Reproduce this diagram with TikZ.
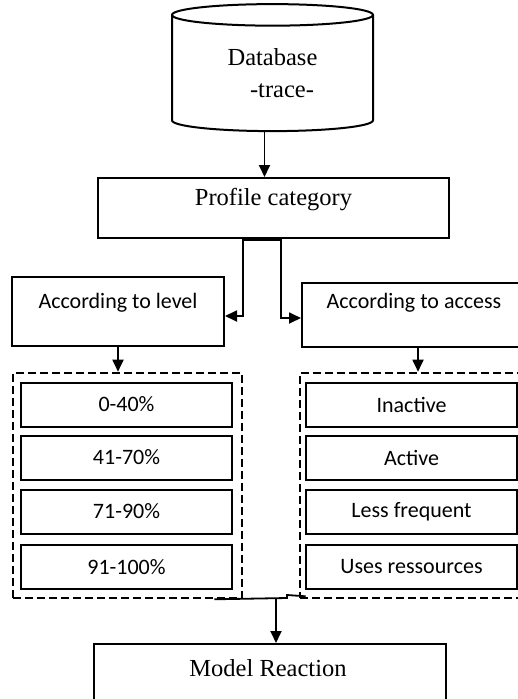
\documentclass[tikz,border=0pt]{standalone}
\usepackage{fontspec}
\setmainfont{Liberation Serif}
\newfontfamily\calib{Carlito}
\usetikzlibrary{shapes.geometric, arrows.meta}

\tikzset{
  box/.style={draw, line width=2pt, inner sep=0pt},
  group/.style={draw, line width=2.6pt, dash pattern=on 8pt off 4pt, inner sep=0pt},
  item/.style={box, minimum width=211, minimum height=44, font=\calib\fontsize{22}{26}\selectfont},
  serif/.style={font=\fontsize{24.5}{32}\selectfont},
  sans/.style={font=\calib\fontsize{22}{26}\selectfont},
  link/.style={line width=1.8pt}
}

\begin{document}
\begin{tikzpicture}[x=1pt, y=-1pt, >={Triangle[length=12pt, width=11pt]}]
  \useasboundingbox (0,0) rectangle (518,699);
  \clip (0,0) rectangle (518,699);

  % Database
  \node[draw, line width=2pt, cylinder, shape border rotate=90, aspect=0.24,
        minimum width=201, minimum height=127, inner sep=0pt, serif, align=center]
        (db) at (272.5,73.5) {Database\\\hspace*{19pt}-trace-};

  % Profile category
  \node[box, minimum width=351, minimum height=60,
        label={[serif, yshift=8pt]center:Profile category}] (prof) at (273.5,208) {};
  \draw[link, ->] ([xshift=-8pt]db.south) -- ([xshift=-8pt]db.south |- prof.north);

  % According to level / access
  \node[box, minimum width=212, minimum height=69,
        label={[sans, yshift=8.5pt]center:According to level}] (lvl) at (118,311.5) {};
  \node[box, minimum width=226, minimum height=64,
        label={[sans, yshift=12pt, xshift=-1pt]center:According to access}] (acc) at (415,315) {};

  % Split below profile
  \draw[line width=3.5pt] ([xshift=-30.5pt]prof.south) -- ([xshift=7.5pt]prof.south);
  \draw[link, ->] ([xshift=-30.5pt]prof.south) |- ([yshift=-4.5pt]lvl.east);
  \draw[link, ->] ([xshift=7.5pt]prof.south) |- ([yshift=-3pt]acc.west);

  % Level group
  \node[group, minimum width=229, minimum height=225] (lvlgrp) at (127.5,485.5) {};
  \node[item] (l1) at (126.5,404.5) {0-40\%};
  \node[item] (l2) at (126.5,457.5) {41-70\%};
  \node[item] (l3) at (126.5,511.5) {71-90\%};
  \node[item] (l4) at (126.5,567) {91-100\%};
  \draw[link, ->] (lvl.south) -- (lvl.south |- lvlgrp.north);

  % Access group
  \node[group, minimum width=222, minimum height=225] (accgrp) at (411,485.5) {};
  \node[item] (a1) at (411.5,404.5) {Inactive};
  \node[item] (a2) at (411.5,457.5) {Active};
  \node[item] (a3) at (411.5,511.5) {Less frequent};
  \node[item] (a4) at (411.5,567) {Uses ressources};
  \draw[link, ->] ([xshift=3pt]acc.south) -- ([xshift=3pt]acc.south |- accgrp.north);

  % Model Reaction
  \node[box, minimum width=352, minimum height=76,
        label={[serif, yshift=14pt, xshift=-2pt]center:Model Reaction}] (model) at (270,682) {};

  % Join of the two groups
  \coordinate (join) at (276,598);
  \draw[link] ([xshift=-29pt]lvlgrp.south east) -- (287,598) -- (287,595)
    -- ([xshift=7pt, yshift=3pt]accgrp.south west);
  \draw[link, ->] (join) -- (join |- model.north);
\end{tikzpicture}
\end{document}
